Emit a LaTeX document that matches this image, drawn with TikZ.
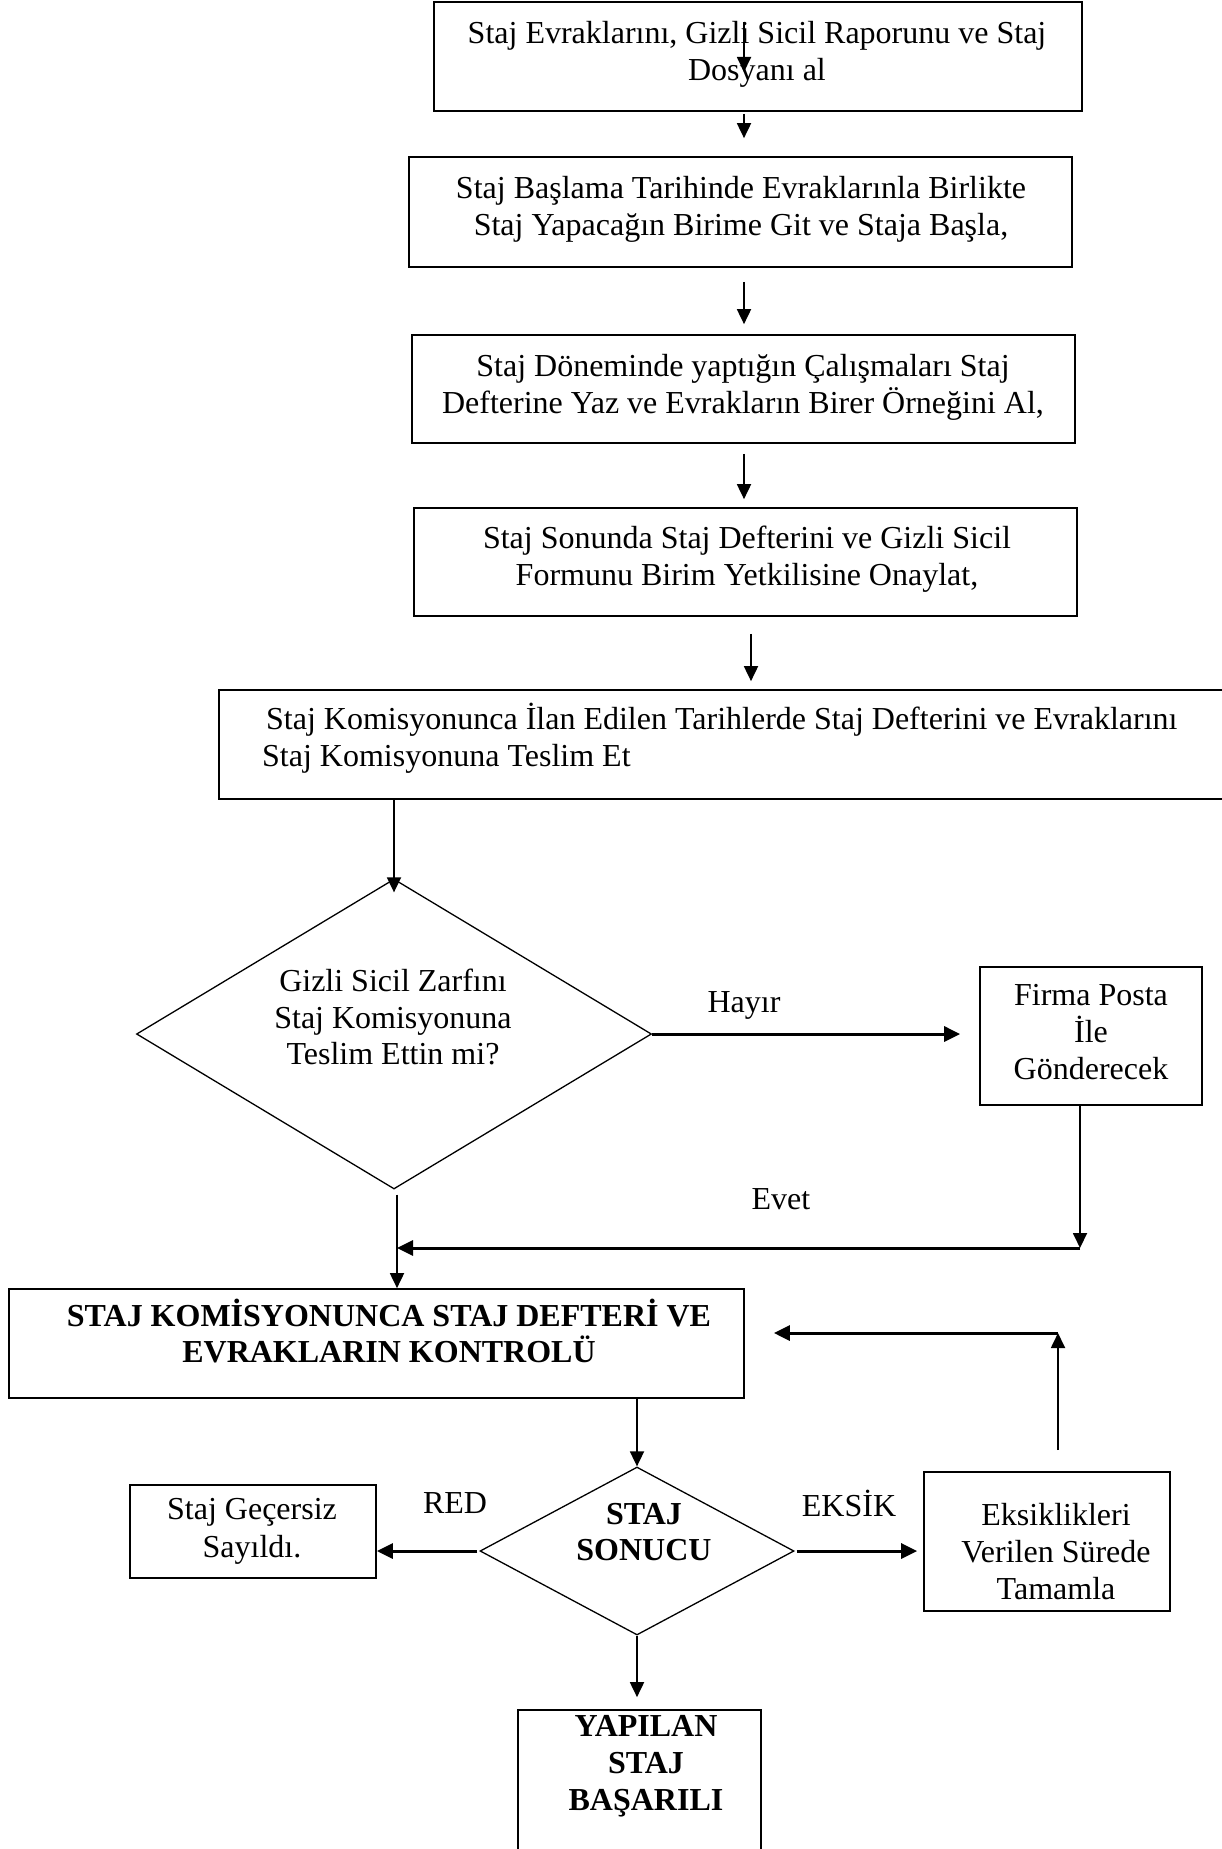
\documentclass[tikz,border=0pt]{standalone}
\usepackage{fontspec}
\setmainfont{Liberation Serif}
\usetikzlibrary{shapes.geometric,arrows.meta,calc}
\begin{document}
\begin{tikzpicture}[x=1pt,y=-1pt,
  box/.style={draw,line width=1.7pt,inner sep=0pt},
  dia/.style={draw,diamond,line width=1.3pt,inner sep=0pt},
  txt/.style={font=\fontsize{32}{36.8}\selectfont,align=center,inner sep=0pt},
  btxt/.style={font=\fontsize{32}{36.8}\selectfont\bfseries,align=center,inner sep=0pt},
  arr/.style={-{Triangle[length=15pt,width=14pt]},line width=1.8pt},
  harr/.style={-{Triangle[length=16pt,width=15pt]},line width=3pt}]
\clip (0,0) rectangle (1222,1849);
\useasboundingbox (0,0) rectangle (1222,1849);
\fill[white] (0,0) rectangle (1222,1849);

% boxes
\node[box,minimum width=648pt,minimum height=109pt] (b1) at (758,56.5) {};
\node[box,minimum width=663pt,minimum height=110pt] (b2) at (740.5,212) {};
\node[box,minimum width=663pt,minimum height=108pt] (b3) at (743.5,389) {};
\node[box,minimum width=663pt,minimum height=108pt] (b4) at (745.5,562) {};
\node[box,minimum width=1021pt,minimum height=109pt] (b5) at (729.5,744.5) {};
\node[dia,minimum width=515pt,minimum height=310pt] (d1) at (394,1034) {};
\node[box,minimum width=222pt,minimum height=138pt] (f) at (1091,1036) {};
\node[box,minimum width=735pt,minimum height=109pt] (b6) at (376.5,1343.5) {};
\node[dia,minimum width=314pt,minimum height=168pt] (d2) at (637,1551) {};
\node[box,minimum width=246pt,minimum height=93pt] (sg) at (253,1531.5) {};
\node[box,minimum width=246pt,minimum height=139pt] (ek) at (1047,1541.5) {};
\node[box,minimum width=243pt,minimum height=150pt] (y) at (639.5,1785) {};

% texts
\node[txt] (t1) at (757,54) {Staj Evraklarını, Gizli Sicil Raporunu ve Staj\\Dosyanı al};
\node[txt] (t2) at (741,209.5) {Staj Başlama Tarihinde Evraklarınla Birlikte\\Staj Yapacağın Birime Git ve Staja Başla,};
\node[txt] (t3) at (743,387) {Staj Döneminde yaptığın Çalışmaları Staj\\Defterine Yaz ve Evrakların Birer Örneğini Al,};
\node[txt] (t4) at (747,559) {Staj Sonunda Staj Defterini ve Gizli Sicil\\Formunu Birim Yetkilisine Onaylat,};
\node[txt,align=left,anchor=west] (t5) at (262,738) {\hspace*{4pt}Staj Komisyonunca İlan Edilen Tarihlerde Staj Defterini ve Evraklarını\\Staj Komisyonuna Teslim Et};
\node[txt] (t6) at (393,1017) {Gizli Sicil Zarfını\\Staj Komisyonuna\\Teslim Ettin mi?};
\node[txt] (t7) at (1091,1032) {Firma Posta\\İle\\Gönderecek};
\node[btxt] (t8) at (389,1331) {STAJ KOMİSYONUNCA STAJ DEFTERİ VE\\EVRAKLARIN KONTROLÜ};
\node[btxt] (t9) at (644,1532) {STAJ\\SONUCU};
\node[txt,font=\fontsize{32}{38.5}\selectfont] (t10) at (252,1531.5) {Staj Geçersiz\\Sayıldı.};
\node[txt] (t11) at (1056,1551.5) {Eksiklikleri\\Verilen Sürede\\Tamamla};
\node[btxt] (t12) at (646,1766) {YAPILAN\\STAJ\\BAŞARILI};

% labels
\node[txt] (lh) at (744,1005) {Hayır};
\node[txt] (le) at (781,1199) {Evet};
\node[txt] (lr) at (455,1503) {RED};
\node[txt] (lk) at (849,1503) {EKSİK};

% coordinates
\coordinate (cx) at (744,0);
\coordinate (cx2) at (751,0);
\coordinate (a0) at (744,22);
\coordinate (a1) at (744,72);
\coordinate (ec) at (1080,1248);
\coordinate (lx) at (397,0);
\coordinate (rc) at (1058,1333);

% connectors
\draw[arr] (a0) -- (a1);
\draw[arr,shorten <=2pt,shorten >=18pt] (b1.south -| cx) -- (b2.north -| cx);
\draw[arr,shorten <=14pt,shorten >=10pt] (b2.south -| cx) -- (b3.north -| cx);
\draw[arr,shorten <=10pt,shorten >=8pt] (b3.south -| cx) -- (b4.north -| cx);
\draw[arr,shorten <=17pt,shorten >=8pt] (b4.south -| cx2) -- (b5.north -| cx2);
\draw[arr,shorten >=-14pt] (b5.south -| d1.north) -- (d1.north);
\draw[harr,shorten >=19pt] (d1.east) -- (d1.east -| f.west);
\draw[arr] (f.south -| ec) -- (ec);
\draw[harr] (ec) -- (ec -| lx);
\draw[arr,shorten <=5pt] (d1.south -| lx) -- (b6.north -| lx);
\draw[arr] (b6.south -| d2.north) -- (d2.north);
\draw[harr,shorten <=2pt] (d2.west) -- (d2.west -| sg.east);
\draw[harr,shorten <=2pt,shorten >=6pt] (d2.east) -- (d2.east -| ek.west);
\draw[arr,shorten <=21pt] (ek.north -| rc) -- (rc);
\draw[harr,shorten >=29pt] (rc) -- (rc -| b6.east);
\draw[arr,shorten >=12pt] (d2.south) -- (d2.south |- y.north);
\end{tikzpicture}
\end{document}
